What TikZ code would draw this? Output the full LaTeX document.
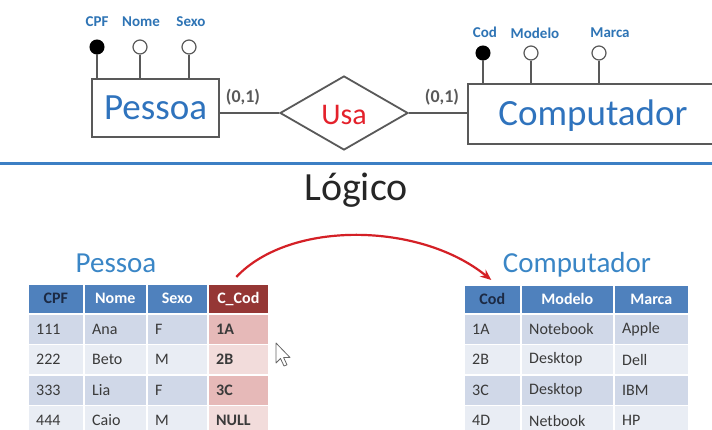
\documentclass[tikz,border=0pt]{standalone}
\usepackage{fontspec}
\setmainfont{Carlito}
\usetikzlibrary{arrows.meta,shapes.geometric}

\definecolor{attrblue}{HTML}{2E74B5}
\definecolor{entblue}{HTML}{2F73BD}
\definecolor{titleblue}{HTML}{3A86C6}
\definecolor{hdrblue}{HTML}{4F81BD}
\definecolor{hdrred}{HTML}{953735}
\definecolor{keyink}{HTML}{1C2A44}
\definecolor{rowA}{HTML}{D0D8E8}
\definecolor{rowB}{HTML}{E9EDF4}
\definecolor{pinkA}{HTML}{E6B9B8}
\definecolor{pinkB}{HTML}{F2DCDB}
\definecolor{usared}{HTML}{E4212B}
\definecolor{ergray}{HTML}{595959}
\definecolor{ruleblue}{HTML}{3C7FC4}
\definecolor{fkred}{HTML}{D42026}
\definecolor{bodyink}{HTML}{3A3A3A}

\tikzset{
  erline/.style={draw=ergray, line width=1.8pt},
  entity/.style={rectangle, draw=ergray, line width=1.8pt, fill=white, inner sep=0pt},
  entname/.style={text=entblue, font=\fontsize{37}{40}\selectfont},
  relbox/.style={diamond, draw=ergray, line width=1.8pt, fill=white, inner sep=0pt, minimum width=128pt, minimum height=74pt},
  keyattr/.style={circle, draw=black, fill=black, line width=1pt, minimum size=14pt, inner sep=0pt},
  plainattr/.style={circle, draw=ergray, fill=white, line width=1.2pt, minimum size=14pt, inner sep=0pt},
  attrlabel/.style={text=attrblue, font=\fontsize{15}{17}\selectfont\bfseries},
  cardlabel/.style={text=ergray, font=\fontsize{18}{20}\selectfont\bfseries},
  cellbox/.style={rectangle, draw=white, line width=1.6pt, inner sep=0pt},
  celltext/.style={text=bodyink, font=\fontsize{16}{18}\selectfont, inner sep=0pt},
  headtext/.style={font=\fontsize{16}{18}\selectfont\bfseries},
  tabtitle/.style={text=titleblue, font=\fontsize{29}{32}\selectfont},
  fkarrow/.style={draw=fkred, line width=2.2pt, -{Stealth[length=11pt,width=9pt]}},
}

% header cell: name, x, y, width, height, fill, text colour, text
\newcommand\headcell[8]{%
  \node[cellbox, fill=#6, minimum width=#4pt, minimum height=#5pt, anchor=north west] (#1) at (#2,#3) {};
  \node[headtext, text=#7] at (#1.center) {#8};}
% body cell: name, x, y, width, height, fill, text, extra font
\newcommand\bodycell[8]{%
  \node[cellbox, fill=#6, minimum width=#4pt, minimum height=#5pt, anchor=north west] (#1) at (#2,#3) {};
  \node[celltext, anchor=west, font=#8] at ([xshift=9pt]#1.west) {#7};}

\begin{document}
\begin{tikzpicture}[x=1pt, y=-1pt]
\clip (0,0) rectangle (712,430);
\fill[white] (0,0) rectangle (712,430);

% ---------- conceptual model ----------
\node[entity, minimum width=127pt, minimum height=58pt] (pessoa) at (155.5,108) {};
\node[entname] (pessoaname) at (pessoa.center) {Pessoa};
\node[entity, minimum width=300pt, minimum height=60pt, anchor=west] (comp) at (467,114) {};
\node[entname] (compname) at (593,116) {Computador};
\node[relbox] (usa) at (344,113) {};
\node[text=usared, font=\fontsize{30}{32}\selectfont] (usaname) at (344,115) {Usa};

\draw[erline] (pessoa.east |- usa.west) -- (usa.west);
\draw[erline] (usa.east) -- (usa.east -| comp.west);
\node[cardlabel] (cardL) at (243,97) {(0,1)};
\node[cardlabel] (cardR) at (442,97) {(0,1)};

% attributes of Pessoa
\node[keyattr]   (acpf)  at (97,47)  {};
\node[plainattr] (anome) at (140,47) {};
\node[plainattr] (asexo) at (189,47) {};
\foreach \a in {acpf,anome,asexo}
  \draw[erline] (\a.south) -- (\a.south |- pessoa.north);
\node[attrlabel] (lcpf)  at (97,22)  {CPF};
\node[attrlabel] (lnome) at (141,22) {Nome};
\node[attrlabel] (lsexo) at (191,22) {Sexo};

% attributes of Computador
\node[keyattr]   (acod)    at (483,53) {};
\node[plainattr] (amodelo) at (531,53) {};
\node[plainattr] (amarca)  at (599,53) {};
\foreach \a in {acod,amodelo,amarca}
  \draw[erline] (\a.south) -- (\a.south |- comp.north);
\node[attrlabel] (lcod)    at (485,32) {Cod};
\node[attrlabel] (lmodelo) at (535,33) {Modelo};
\node[attrlabel] (lmarca)  at (610,33) {Marca};

% separator and section title
\draw[draw=ruleblue, line width=3pt] (0,164) -- (712,164);
\node[text=black!85, font=\fontsize{40}{44}\selectfont] (logico) at (356,190) {Lógico};

% ---------- logical model: Pessoa ----------
\node[tabtitle] (tpessoa) at (116,263) {Pessoa};
\headcell{hcpf}{27}{283}{56}{30}{hdrblue}{keyink}{CPF}
\headcell{hnome}{83}{283}{63}{30}{hdrblue}{white}{Nome}
\headcell{hsexo}{146}{283}{61}{30}{hdrblue}{white}{Sexo}
\headcell{hccod}{207}{283}{61}{30}{hdrred}{white}{C\_Cod}
\foreach \a/\b/\c/\d [count=\i] in {111/Ana/F/1A,222/Beto/M/2B,333/Lia/F/3C,444/Caio/M/NULL}{
  \pgfmathsetmacro\ytop{313+(\i-1)*30.5}
  \ifodd\i \def\rc{rowA}\def\pc{pinkA}\else \def\rc{rowB}\def\pc{pinkB}\fi
  \bodycell{p\i a}{27}{\ytop}{56}{30.5}{\rc}{\a}{\fontsize{16}{18}\selectfont}
  \bodycell{p\i b}{83}{\ytop}{63}{30.5}{\rc}{\b}{\fontsize{16}{18}\selectfont}
  \bodycell{p\i c}{146}{\ytop}{61}{30.5}{\rc}{\c}{\fontsize{16}{18}\selectfont}
  \bodycell{p\i d}{207}{\ytop}{61}{30.5}{\pc}{\d}{\fontsize{16}{18}\selectfont\bfseries}
}

% ---------- logical model: Computador ----------
\node[tabtitle] (tcomp) at (577,265) {Computador};
\headcell{hcod}{463}{284}{57}{29}{hdrblue}{keyink}{Cod}
\headcell{hmodelo}{520}{284}{93}{29}{hdrblue}{white}{Modelo}
\headcell{hmarca}{613}{284}{75}{29}{hdrblue}{white}{Marca}
\foreach \a/\b/\c [count=\i] in {1A/Notebook/Apple,2B/Desktop/Dell,3C/Desktop/IBM,4D/Netbook/HP}{
  \pgfmathsetmacro\ytop{313+(\i-1)*30.5}
  \ifodd\i \def\rc{rowA}\else \def\rc{rowB}\fi
  \bodycell{c\i a}{463}{\ytop}{57}{30.5}{\rc}{\a}{\fontsize{16}{18}\selectfont}
  \bodycell{c\i b}{520}{\ytop}{93}{30.5}{\rc}{\b}{\fontsize{16}{18}\selectfont}
  \bodycell{c\i c}{613}{\ytop}{75}{30.5}{\rc}{\c}{\fontsize{16}{18}\selectfont}
}

% foreign key reference
\coordinate (fkfrom) at ([shift={(-2pt,6pt)}]hccod.north);
\coordinate (fkto)   at ([shift={(-1pt,4pt)}]hcod.north);
\draw[fkarrow] (fkfrom) .. controls (290,220) and (420,222) .. (fkto);

% mouse pointer
\draw[fill=white, draw=black!60, line width=0.8pt, line join=round]
  (276,343) -- (276,363) -- (280.5,358.5) -- (284,366) -- (287,364.8) -- (283.6,357.5) -- (290,357.5) -- cycle;
\end{tikzpicture}
\end{document}
